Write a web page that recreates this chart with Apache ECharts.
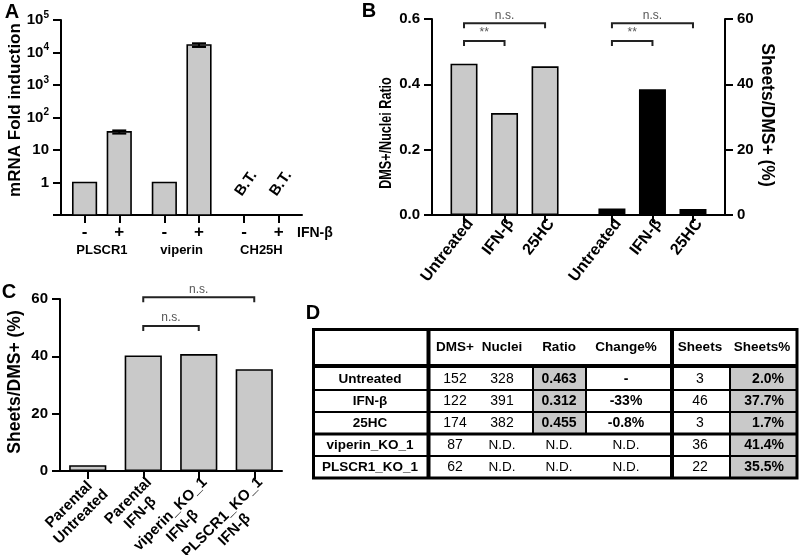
<!DOCTYPE html>
<html><head><meta charset="utf-8">
<script src="https://cdn.jsdelivr.net/npm/echarts@6/dist/echarts.min.js"></script>
<style>html,body{margin:0;padding:0;background:#fff}#c{width:800px;height:555px}</style>
</head><body><div id="c"></div>
<script>
// ================= DATA =================
// Panel A
const genesA = ['PLSCR1', 'viperin', 'CH25H'];
const treatA = ['-', '+'];
const foldA = [1, 36, 1, 17000, null, null];      // null = below threshold
const errA = [0, 4, 0, 2200, 0, 0];
const noteA = ['', '', '', '', 'B.T.', 'B.T.'];
const treatNameA = 'IFN-β';
const yTitleA = 'mRNA Fold induction';

// Panel B
const catB = ['Untreated', 'IFN-β', '25HC'];
const ratioB = [0.463, 0.312, 0.455];
const sheetsPctB = [2.0, 38.5, 1.8];
const sigB = [[0, 2, 0.587], [0, 1, 0.533], [3, 5, 0.587], [3, 4, 0.533]];
const sigTextB = ['n.s.', '**', 'n.s.', '**'];
const yTitleBLeft = 'DMS+/Nuclei Ratio';
const yTitleBRight = 'Sheets/DMS+ (%)';

// Panel C
const catC = [['Parental', 'Untreated'], ['Parental', 'IFN-β'], ['viperin_KO_1', 'IFN-β'], ['PLSCR1_KO_1', 'IFN-β']];
const sheetsPctC = [2.0, 40.3, 40.8, 35.5];
const sigC = [[1, 3, 60.6], [1, 2, 50.6]];
const sigTextC = ['n.s.', 'n.s.'];
const yTitleC = 'Sheets/DMS+ (%)';

// Panel D (table)
const headD = ['DMS+', 'Nuclei', 'Ratio', 'Change%', 'Sheets', 'Sheets%'];
const rowsD = ['Untreated', 'IFN-β', '25HC', 'viperin_KO_1', 'PLSCR1_KO_1'];
const dmsD = ['152', '122', '174', '87', '62'];
const nucleiD = ['328', '391', '382', 'N.D.', 'N.D.'];
const ratioD = ['0.463', '0.312', '0.455', 'N.D.', 'N.D.'];
const changeD = ['-', '-33%', '-0.8%', 'N.D.', 'N.D.'];
const sheetsD = ['3', '46', '3', '36', '22'];
const sheetsPctD = ['2.0%', '37.7%', '1.7%', '41.4%', '35.5%'];

// ================= LAYOUT / STYLE =================
const FONT = "'Liberation Sans', Arial, Helvetica, sans-serif";
const GRAY = '#c9c9c9';
const GAP_A = 2.3, GAP_B = 3.65, HALF_A = 0.34, LOG_MIN = 0.1;

const posA = [];
genesA.forEach((g, gi) => treatA.forEach((t, ti) => posA.push(gi * GAP_A + ti)));
const tickLabA = posA.map((p, i) => treatA[i % treatA.length]);
const groupPosA = genesA.map((g, gi) => gi * GAP_A + (treatA.length - 1) / 2);
const posB = [0, 1].flatMap(g => catB.map((c, i) => g * GAP_B + i));
const labB = catB.concat(catB);
function lookup(pos, labs, v) {
  for (let i = 0; i < pos.length; i++) if (Math.abs(pos[i] - v) < 1e-6) return labs[i];
  return '';
}
const axLine = { show: true, onZero: false, lineStyle: { color: '#000', width: 2 } };
const axTick = { show: true, length: 8, lineStyle: { color: '#000', width: 2 } };
const yLab = { fontSize: 15, fontWeight: 'bold', color: '#000', fontFamily: FONT, margin: 12 };

function bracketRender(posArr, texts) {
  return function (params, api) {
    const a = api.value(0), b = api.value(1), lvl = api.value(2);
    const xa = posArr ? posArr[a] : a, xb = posArr ? posArr[b] : b;
    const p0 = api.coord([xa, lvl]), p1 = api.coord([xb, lvl]);
    const drop = 5;
    return {
      type: 'group', children: [
        { type: 'polyline', shape: { points: [[p0[0], p0[1] + drop], [p0[0], p0[1]], [p1[0], p1[1]], [p1[0], p1[1] + drop]] },
          style: { stroke: '#222', lineWidth: 2, fill: 'none' } },
        { type: 'text', x: (p0[0] + p1[0]) / 2, y: p0[1] - 8,
          style: { text: texts[params.dataIndex], align: 'center', verticalAlign: 'middle', fontSize: 12, fill: '#555', fontFamily: FONT } }
      ]
    };
  };
}

// ================= TABLE GRAPHIC =================
const tableEls = [];
(function () {
  const X0 = 312, X1 = 797, Y0 = 328, HB = 366, ROW = 22, R0 = 368;
  const Y1 = R0 + ROW * rowsD.length;
  const colC = [455, 502, 559, 626, 700];
  const ratioL = 533, ratioR = 586, pctL = 730, pctRight = 784;
  const nGray = 3;
  tableEls.push({ type: 'rect', shape: { x: ratioL, y: R0, width: ratioR - ratioL, height: ROW * nGray }, style: { fill: GRAY } });
  tableEls.push({ type: 'rect', shape: { x: pctL, y: R0, width: X1 - pctL, height: ROW * rowsD.length }, style: { fill: GRAY } });
  for (let i = 1; i < rowsD.length; i++) {
    const y = R0 + ROW * i; const th = (i === nGray) ? 3 : 2;
    tableEls.push({ type: 'rect', shape: { x: X0, y: y - th / 2, width: X1 - X0, height: th }, style: { fill: '#000' } });
  }
  [ratioL, ratioR].forEach(x => tableEls.push({ type: 'rect', shape: { x: x - 1, y: HB, width: 2, height: ROW * nGray + 2 }, style: { fill: '#000' } }));
  tableEls.push({ type: 'rect', shape: { x: pctL - 1, y: HB, width: 2, height: Y1 - HB }, style: { fill: '#000' } });
  tableEls.push({ type: 'rect', shape: { x: X0, y: HB - 2, width: X1 - X0, height: 4 }, style: { fill: '#000' } });
  [428.5, 672].forEach(x => tableEls.push({ type: 'rect', shape: { x: x - 2, y: Y0, width: 4, height: Y1 - Y0 }, style: { fill: '#000' } }));
  tableEls.push({ type: 'rect', shape: { x: X0 + 1.5, y: Y0 + 1.5, width: X1 - X0 - 1.5, height: Y1 - Y0 - 1.5 }, style: { fill: 'none', stroke: '#000', lineWidth: 3 } });
  const txt = (s, x, y, bold, size, align) => ({ type: 'text', x: x, y: y,
    style: { text: s, align: align || 'center', verticalAlign: 'middle', fontSize: size, fontWeight: bold ? 'bold' : 'normal', fill: '#000', fontFamily: FONT } });
  headD.forEach((h, i) => tableEls.push(txt(h, i < 5 ? colC[i] : 762, 347, true, 13.5)));
  rowsD.forEach((r, i) => {
    const y = R0 + ROW * i + ROW / 2;
    tableEls.push(txt(r, 370, y, true, 13.5));
    tableEls.push(txt(dmsD[i], colC[0], y, false, 14));
    tableEls.push(txt(nucleiD[i], colC[1], y, false, nucleiD[i] === 'N.D.' ? 13.5 : 14));
    tableEls.push(txt(ratioD[i], colC[2], y, ratioD[i] !== 'N.D.', ratioD[i] === 'N.D.' ? 13.5 : 14));
    tableEls.push(txt(changeD[i], colC[3], y, changeD[i] !== 'N.D.', changeD[i] === 'N.D.' ? 13.5 : 14));
    tableEls.push(txt(sheetsD[i], colC[4], y, false, 14));
    tableEls.push(txt(sheetsPctD[i], pctRight, y, true, 14, 'right'));
  });
})();

const textEl = (s, x, y, size, opts) => Object.assign({ type: 'text', x: x, y: y,
  style: { text: s, align: 'center', verticalAlign: 'middle', fontSize: size, fontWeight: 'bold', fill: '#000', fontFamily: FONT } }, opts || {});

const graphics = [
  textEl('A', 12, 12, 20), textEl('B', 369, 11, 20), textEl('C', 9, 292, 20), textEl('D', 313, 313, 20),
  textEl(yTitleA, 15, 110, 17, { rotation: Math.PI / 2 }),
  textEl(yTitleBLeft, 386, 133, 17, { rotation: Math.PI / 2, scaleX: 0.74 }),
  textEl(yTitleBRight, 767, 115, 17.5, { rotation: -Math.PI / 2 }),
  textEl(yTitleC, 15, 382, 17.5, { rotation: Math.PI / 2 }),
  { type: 'text', x: 297, y: 233, style: { text: treatNameA, align: 'left', verticalAlign: 'middle', fontSize: 14, fontWeight: 'bold', fill: '#000', fontFamily: FONT } }
].concat(tableEls);

// ================= OPTION =================
const option = {
  backgroundColor: '#fff',
  animation: false,
  textStyle: { fontFamily: FONT },
  grid: [
    { left: 61, top: 20, width: 241, height: 195, outerBoundsMode: 'none', containLabel: false },
    { left: 432, top: 19, width: 293, height: 196, outerBoundsMode: 'none', containLabel: false },
    { left: 60, top: 299, width: 222, height: 172, outerBoundsMode: 'none', containLabel: false }
  ],
  xAxis: [
    { gridIndex: 0, type: 'value', min: -0.68, max: 6.27, axisLine: axLine,
      axisTick: Object.assign({ customValues: posA }, axTick),
      axisLabel: { customValues: posA, formatter: v => lookup(posA, tickLabA, v), fontSize: 17, fontWeight: 'bold', color: '#000', margin: 9, fontFamily: FONT },
      splitLine: { show: false } },
    { gridIndex: 0, type: 'value', min: -0.68, max: 6.27, position: 'bottom', offset: 26,
      axisLine: { show: false }, axisTick: { show: false },
      axisLabel: { customValues: groupPosA, formatter: v => lookup(groupPosA, genesA, v), fontSize: 13, fontWeight: 'bold', color: '#000', margin: 3, fontFamily: FONT },
      splitLine: { show: false } },
    { gridIndex: 1, type: 'value', min: -0.79, max: 6.44, axisLine: axLine,
      axisTick: Object.assign({ customValues: posB }, axTick),
      axisLabel: { customValues: posB, formatter: v => lookup(posB, labB, v), rotate: 52, verticalAlign: 'top', fontSize: 16, fontWeight: 'bold', color: '#000', margin: 1, fontFamily: FONT },
      splitLine: { show: false } },
    { gridIndex: 2, type: 'category', data: catC.map(c => c.join('\n')), axisLine: axLine,
      axisTick: Object.assign({ alignWithLabel: true }, axTick),
      axisLabel: { interval: 0, rotate: 45, margin: 3, verticalAlign: 'top',
        formatter: v => v.split('\n').map(s => '{c|' + s + '}').join('\n'),
        rich: { c: { align: 'center', fontSize: 15, fontWeight: 'bold', color: '#000', fontFamily: FONT, lineHeight: 17 } } },
      splitLine: { show: false } }
  ],
  yAxis: [
    { gridIndex: 0, type: 'log', logBase: 10, min: LOG_MIN, max: 100000, splitNumber: 6,
      axisLine: axLine, axisTick: axTick, splitLine: { show: false },
      axisLabel: { margin: 12,
        formatter: v => { const e = Math.round(Math.log10(v)); if (e < 0) return ''; if (e === 0) return '{b|1}'; if (e === 1) return '{b|10}'; return '{b|10}{s|' + e + '}'; },
        rich: { b: { fontSize: 15, fontWeight: 'bold', color: '#000', fontFamily: FONT, lineHeight: 20 },
                s: { fontSize: 10, fontWeight: 'bold', color: '#000', fontFamily: FONT, verticalAlign: 'top', lineHeight: 12 } } } },
    { gridIndex: 1, type: 'value', min: 0, max: 0.6, interval: 0.2, position: 'left',
      axisLine: axLine, axisTick: axTick, splitLine: { show: false },
      axisLabel: Object.assign({ formatter: v => v.toFixed(1) }, yLab) },
    { gridIndex: 1, type: 'value', min: 0, max: 60, interval: 20, position: 'right',
      axisLine: axLine, axisTick: axTick, splitLine: { show: false },
      axisLabel: yLab },
    { gridIndex: 2, type: 'value', min: 0, max: 60, interval: 20,
      axisLine: axLine, axisTick: axTick, splitLine: { show: false },
      axisLabel: yLab }
  ],
  series: [
    { type: 'custom', xAxisIndex: 0, yAxisIndex: 0, encode: { x: 0, y: 1 },
      data: posA.map((p, i) => [p, foldA[i]]).filter(d => d[1] != null),
      renderItem: (params, api) => {
        const x = api.value(0), v = api.value(1);
        const tl = api.coord([x - HALF_A, v]), br = api.coord([x + HALF_A, LOG_MIN]);
        return { type: 'rect', shape: { x: tl[0], y: tl[1], width: br[0] - tl[0], height: br[1] - tl[1] },
          style: { fill: GRAY, stroke: '#000', lineWidth: 1.6 } };
      } },
    { type: 'custom', xAxisIndex: 0, yAxisIndex: 0, encode: { x: 0, y: 1 },
      data: posA.map((p, i) => [p, foldA[i], errA[i]]).filter(d => d[1] != null && d[2] > 0),
      renderItem: (params, api) => {
        const x = api.value(0), v = api.value(1), e = api.value(2);
        const t = api.coord([x, v + e]), b = api.coord([x, v - e]); const cw = 7;
        const st = { stroke: '#000', lineWidth: 2 };
        return { type: 'group', children: [
          { type: 'line', shape: { x1: t[0], y1: t[1], x2: b[0], y2: b[1] }, style: st },
          { type: 'line', shape: { x1: t[0] - cw, y1: t[1], x2: t[0] + cw, y2: t[1] }, style: st },
          { type: 'line', shape: { x1: b[0] - cw, y1: b[1], x2: b[0] + cw, y2: b[1] }, style: st }
        ] };
      } },
    { type: 'custom', xAxisIndex: 0, yAxisIndex: 0, encode: { x: 0, y: 1 },
      data: posA.map((p, i) => [p, 1, i]).filter(d => noteA[d[2]]),
      renderItem: (params, api) => {
        const p = api.coord([api.value(0), api.value(1)]);
        return { type: 'text', x: p[0] + 2, y: p[1] + 1, rotation: 55 * Math.PI / 180,
          style: { text: noteA[api.value(2)], align: 'center', verticalAlign: 'middle', fontSize: 15, fontWeight: 'bold', fill: '#000', fontFamily: FONT } };
      } },
    { type: 'bar', xAxisIndex: 2, yAxisIndex: 1, barWidth: 27, barGap: '-100%',
      data: catB.map((c, i) => [posB[i], ratioB[i]]),
      itemStyle: { color: GRAY, borderColor: '#000', borderWidth: 1.6 } },
    { type: 'bar', xAxisIndex: 2, yAxisIndex: 2, barWidth: 27, barGap: '-100%',
      data: catB.map((c, i) => [posB[i + catB.length], sheetsPctB[i]]),
      itemStyle: { color: '#000', borderColor: '#000', borderWidth: 1.6 } },
    { type: 'custom', xAxisIndex: 2, yAxisIndex: 1, encode: { x: 0, y: 2 }, data: sigB, renderItem: bracketRender(posB, sigTextB) },
    { type: 'bar', xAxisIndex: 3, yAxisIndex: 3, barWidth: '67%',
      data: sheetsPctC, itemStyle: { color: GRAY, borderColor: '#000', borderWidth: 1.6 } },
    { type: 'custom', xAxisIndex: 3, yAxisIndex: 3, encode: { x: 0, y: 2 }, data: sigC, renderItem: bracketRender(null, sigTextC) }
  ],
  graphic: { elements: graphics }
};
const chart = echarts.init(document.getElementById('c'), null, { renderer: 'canvas', width: 800, height: 555 });
chart.setOption(option);
</script></body></html>
